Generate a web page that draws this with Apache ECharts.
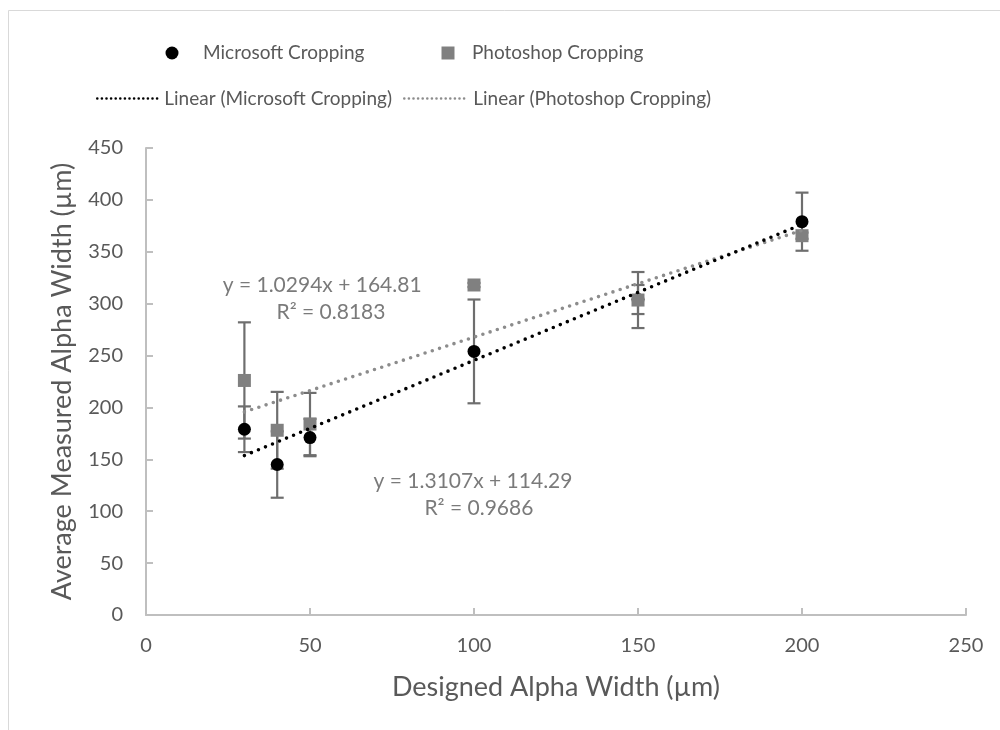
<!DOCTYPE html>
<html>
<head>
<meta charset="utf-8">
<title>Average Measured Alpha Width vs Designed Alpha Width</title>
<script src="https://cdn.jsdelivr.net/npm/echarts@6/dist/echarts.min.js"></script>
<style>
  html, body { margin: 0; padding: 0; background: #ffffff; }
  #chart { width: 1000px; height: 730px; }
</style>
</head>
<body>
<div id="chart"></div>
<script>
// Designed alpha widths (µm)
const designedWidths = [30, 40, 50, 100, 150, 200];

// Average measured widths (µm) and their error (±)
const microsoftMeans = [179, 145, 171, 254, 304, 379];
const microsoftErrors = [22, 32, 18, 50, 14, 28];
const photoshopMeans = [226, 178, 184, 318, 303.5, 365.5];
const photoshopErrors = [56, 37, 30, 2, 27, 3];

// Linear fit coefficients, as printed on the chart
const microsoftFit = { slope: 1.3107, intercept: 114.29, r2: '0.9686' };
const photoshopFit = { slope: 1.0294, intercept: 164.81, r2: '0.8183' };

// Where each fit's equation text sits, in data units [x, y]
const microsoftFitTextAt = [[99.7, 129], [101.5, 103]];
const photoshopFitTextAt = [[53.7, 318], [56.4, 292]];

// Axis ticks
const xTicks = [0, 50, 100, 150, 200, 250];
const yTicks = [0, 50, 100, 150, 200, 250, 300, 350, 400, 450];

const FONT = 'Lato, "Open Sans", sans-serif';
const TEXT = '#595959';
const AXIS = '#bfbfbf';
const ERR = '#6e6e6e';
const GRAY = '#808080';
const TREND_GRAY = '#8c8c8c';

const pairs = (xs, ys) => xs.map((x, i) => [x, ys[i]]);
const errorData = (xs, ys, es) => xs.map((x, i) => [x, ys[i] - es[i], ys[i] + es[i]]);
const fitLine = (fit) => {
  const x0 = designedWidths[0];
  const x1 = designedWidths[designedWidths.length - 1];
  return [[x0, fit.slope * x0 + fit.intercept], [x1, fit.slope * x1 + fit.intercept]];
};
const fitLabel = (fit) => 'y = ' + fit.slope.toFixed(4) + 'x + ' + fit.intercept.toFixed(2);
const fitTexts = (fit, at) => [
  { value: at[0], text: fitLabel(fit) },
  { value: at[1], text: 'R² = ' + fit.r2 }
];

function renderErrorBar(params, api) {
  const x = api.value(0);
  const lo = api.coord([x, api.value(1)]);
  const hi = api.coord([x, api.value(2)]);
  const half = 6.5;
  const style = { stroke: ERR, lineWidth: 2.2 };
  return {
    type: 'group',
    children: [
      { type: 'line', shape: { x1: lo[0], y1: lo[1], x2: hi[0], y2: hi[1] }, style },
      { type: 'line', shape: { x1: lo[0] - half, y1: lo[1], x2: lo[0] + half, y2: lo[1] }, style },
      { type: 'line', shape: { x1: hi[0] - half, y1: hi[1], x2: hi[0] + half, y2: hi[1] }, style }
    ]
  };
}

function textSeries(name, items) {
  return {
    name: name, type: 'scatter', z: 7, silent: true,
    symbolSize: 1, itemStyle: { color: 'rgba(0,0,0,0)' },
    label: {
      show: true, position: 'inside',
      formatter: (p) => items[p.dataIndex].text,
      fontFamily: FONT, fontSize: 21, color: TEXT
    },
    emphasis: { disabled: true },
    data: items.map((d) => d.value)
  };
}

const dotted = (color) => ({ color: color, width: 3.6, type: [0, 7.6], cap: 'round' });
const legendDots = (color) => ({ color: color, width: 2.6, type: [0, 4.6], cap: 'round', opacity: 1 });
const legendText = (pad, lh) => ({ fontFamily: FONT, fontSize: 19, color: TEXT, lineHeight: lh, padding: [0, 0, 0, pad] });
const hiddenSymbol = { color: 'rgba(0,0,0,0)', borderWidth: 0, opacity: 0 };

const chart = echarts.init(document.getElementById('chart'), null, { renderer: 'canvas' });

chart.setOption({
  backgroundColor: '#ffffff',
  animation: false,
  textStyle: { fontFamily: FONT },
  grid: { left: 146, right: 34, top: 148, bottom: 115, containLabel: false },
  legend: [
    {
      data: ['Microsoft Cropping'], left: 165.5, top: 43.5, padding: 0, itemWidth: 13, itemHeight: 13,
      itemStyle: { opacity: 1 }, textStyle: legendText(19.5, 13)
    },
    {
      data: ['Photoshop Cropping'], left: 441.5, top: 43.5, padding: 0, itemWidth: 13, itemHeight: 13,
      itemStyle: { opacity: 1 }, textStyle: legendText(12.5, 13)
    },
    {
      data: ['Linear (Microsoft Cropping)'], left: 96, top: 89, padding: 0, itemWidth: 62, itemHeight: 14,
      lineStyle: legendDots('#000000'), itemStyle: hiddenSymbol, textStyle: legendText(0, 14)
    },
    {
      data: ['Linear (Photoshop Cropping)'], left: 403, top: 89, padding: 0, itemWidth: 62, itemHeight: 14,
      lineStyle: legendDots(TREND_GRAY), itemStyle: hiddenSymbol, textStyle: legendText(2, 14)
    }
  ],
  xAxis: {
    type: 'value',
    min: xTicks[0],
    max: xTicks[xTicks.length - 1],
    interval: xTicks[1] - xTicks[0],
    name: 'Designed Alpha Width (µm)',
    nameLocation: 'middle',
    nameGap: 59,
    nameTextStyle: { fontFamily: FONT, fontSize: 27, color: TEXT },
    axisLine: { show: true, lineStyle: { color: AXIS, width: 2 } },
    axisTick: { show: true, inside: true, length: 7, lineStyle: { color: AXIS, width: 2 } },
    axisLabel: { fontFamily: FONT, fontSize: 20, color: TEXT, margin: 21 },
    splitLine: { show: false }
  },
  yAxis: {
    type: 'value',
    min: yTicks[0],
    max: yTicks[yTicks.length - 1],
    interval: yTicks[1] - yTicks[0],
    name: 'Average Measured Alpha Width (µm)',
    nameLocation: 'middle',
    nameGap: 70,
    nameTextStyle: { fontFamily: FONT, fontSize: 27, color: TEXT },
    axisLine: { show: true, lineStyle: { color: AXIS, width: 2 } },
    axisTick: { show: true, inside: true, length: 7, lineStyle: { color: AXIS, width: 2 } },
    axisLabel: { fontFamily: FONT, fontSize: 20, color: TEXT, margin: 23 },
    splitLine: { show: false }
  },
  graphic: [
    {
      type: 'rect', silent: true, z: -10,
      shape: { x: 8.5, y: 10.5, width: 1000, height: 730 },
      style: { fill: 'none', stroke: '#d9d9d9', lineWidth: 1 }
    }
  ],
  series: [
    {
      name: 'Microsoft Error', type: 'custom', z: 2,
      renderItem: renderErrorBar,
      data: errorData(designedWidths, microsoftMeans, microsoftErrors),
      silent: true
    },
    {
      name: 'Photoshop Error', type: 'custom', z: 2,
      renderItem: renderErrorBar,
      data: errorData(designedWidths, photoshopMeans, photoshopErrors),
      silent: true
    },
    {
      name: 'Microsoft Cropping', type: 'scatter', z: 3,
      symbol: 'circle', symbolSize: 13,
      itemStyle: { color: '#000000', opacity: 1 },
      data: pairs(designedWidths, microsoftMeans)
    },
    {
      name: 'Photoshop Cropping', type: 'scatter', z: 4,
      symbol: 'rect', symbolSize: 13,
      itemStyle: { color: GRAY, opacity: 1 },
      data: pairs(designedWidths, photoshopMeans)
    },
    {
      name: 'Linear (Microsoft Cropping)', type: 'line', z: 6,
      showSymbol: false, symbol: 'none',
      lineStyle: dotted('#000000'),
      itemStyle: { color: '#000000' },
      data: fitLine(microsoftFit)
    },
    {
      name: 'Linear (Photoshop Cropping)', type: 'line', z: 5,
      showSymbol: false, symbol: 'none',
      lineStyle: dotted(TREND_GRAY),
      itemStyle: { color: TREND_GRAY },
      data: fitLine(photoshopFit)
    },
    textSeries('Microsoft fit equation', fitTexts(microsoftFit, microsoftFitTextAt)),
    textSeries('Photoshop fit equation', fitTexts(photoshopFit, photoshopFitTextAt))
  ]
});
</script>
</body>
</html>
